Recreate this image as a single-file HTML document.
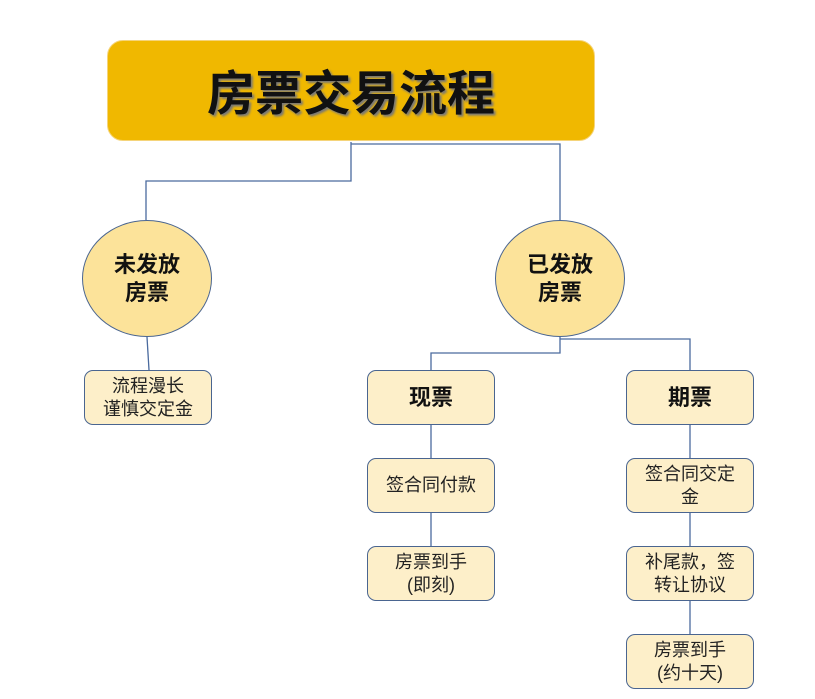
<!DOCTYPE html>
<html><head><meta charset="utf-8"><style>
body{margin:0;background:#fff;width:815px;height:699px;overflow:hidden;font-family:"Liberation Sans","Noto Sans CJK SC",sans-serif}
.abs{position:absolute;box-sizing:border-box;display:flex;align-items:center;justify-content:center;text-align:center}
.title{left:107px;top:40px;width:488px;height:101px;background:#F0B800;border-radius:16px;border:1px solid #f5d47a;font-size:48px;font-weight:bold;color:#111;text-shadow:2px 2px 2px #777;padding-bottom:4px}
.c{width:130px;height:117px;border-radius:50%;background:#FCE39A;border:1.5px solid #4A6590;font-size:22px;font-weight:bold;line-height:28px;color:#111}
.b{width:128px;height:55px;border-radius:9px;background:#FDEFC9;border:1.5px solid #4A6590;font-size:18px;line-height:23px;color:#222}
.bb{font-size:22px;font-weight:bold;color:#111}
</style></head><body>
<svg width="815" height="699" style="position:absolute;left:0;top:0" fill="none" stroke="#4A6A9E" stroke-width="1.3">
<polyline points="351,142 351,181 146,181 146,220"/>
<polyline points="351,144 560,144 560,220"/>
<polyline points="147,337 149,370"/>
<polyline points="560,337 560,353 431,353 431,370"/>
<polyline points="560,339 690,339 690,370"/>
<line x1="431" y1="425" x2="431" y2="458"/>
<line x1="431" y1="513" x2="431" y2="546"/>
<line x1="690" y1="425" x2="690" y2="458"/>
<line x1="690" y1="513" x2="690" y2="546"/>
<line x1="690" y1="601" x2="690" y2="634"/>
</svg>
<div class="abs title">房票交易流程</div>
<div class="abs c" style="left:82px;top:220px">未发放<br>房票</div>
<div class="abs c" style="left:495px;top:220px">已发放<br>房票</div>
<div class="abs b" style="left:84px;top:370px">流程漫长<br>谨慎交定金</div>
<div class="abs b bb" style="left:367px;top:370px">现票</div>
<div class="abs b bb" style="left:626px;top:370px">期票</div>
<div class="abs b" style="left:367px;top:458px">签合同付款</div>
<div class="abs b" style="left:367px;top:546px">房票到手<br>(即刻)</div>
<div class="abs b" style="left:626px;top:458px">签合同交定<br>金</div>
<div class="abs b" style="left:626px;top:546px">补尾款，签<br>转让协议</div>
<div class="abs b" style="left:626px;top:634px">房票到手<br>(约十天)</div>
</body></html>
